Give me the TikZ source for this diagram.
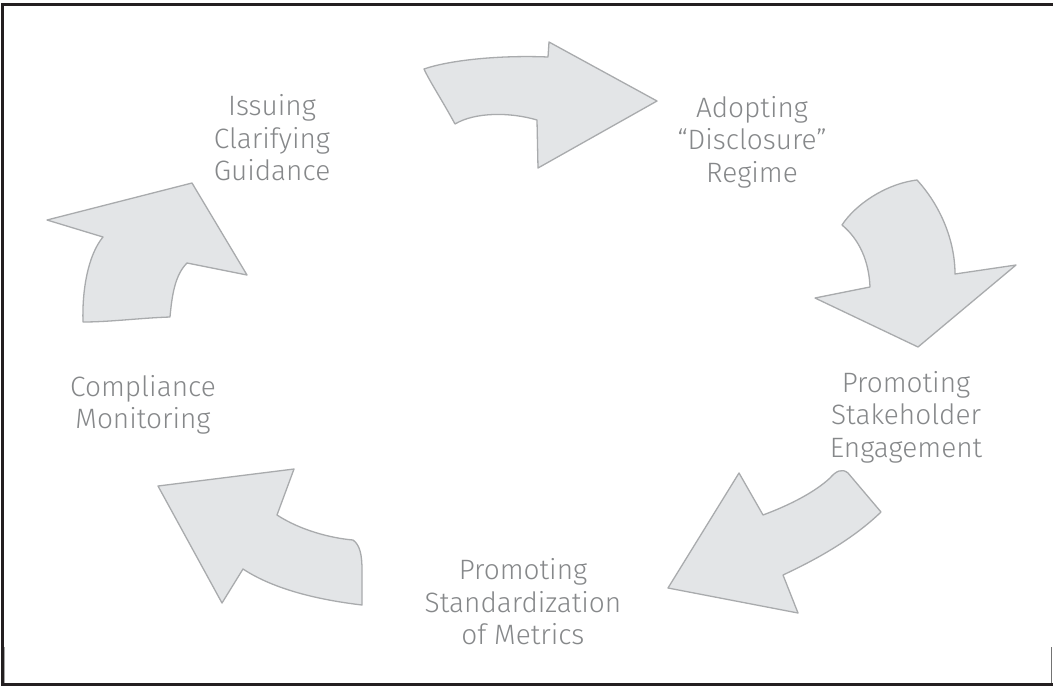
\documentclass[tikz,border=0pt]{standalone}
\usepackage{fontspec}
\setmainfont{Fira Sans Light}
\definecolor{arrfill}{HTML}{E3E5E7}
\definecolor{arrline}{HTML}{A9ABAD}
\definecolor{txt}{HTML}{86888A}
\definecolor{frame}{HTML}{231F20}
\tikzset{
  arrowshape/.style={fill=arrfill, draw=arrline, line width=1.3pt, line join=round},
  label/.style={text=txt, align=center, font=\fontsize{28}{32.5}\selectfont, inner sep=0pt},
}
\begin{document}
\begin{tikzpicture}[x=1pt,y=-1pt]
\useasboundingbox (0,0) rectangle (1053,686);
\fill[white] (0,0) rectangle (1053,686);
% frame
\draw[frame, line width=3pt] (1053,4) -- (2,4) -- (2,684.5) -- (1053,684.5);
\draw[black!35, line width=1.2pt] (4.8,647) -- (4.8,683);
\draw[black!55, line width=1.2pt] (1051.8,647) -- (1051.8,683);
% arrow 1 (top, to the right)
\draw[arrowshape] (424,69) .. controls (450,60) and (500,55) .. (548,57)
  -- (549,42) -- (657,101) -- (538,168) -- (537,120)
  .. controls (510,112) and (475,112) .. (455,124)
  .. controls (442,100) and (430,82) .. cycle;
% arrow 2 (right, downward)
\draw[arrowshape] (842,225) .. controls (855,205) and (885,184) .. (917,180)
  .. controls (940,205) and (955,240) .. (955,274)
  -- (1016,265) -- (918,347) -- (815,298) -- (870,287)
  .. controls (869,262) and (860,240) .. cycle;
% arrow 3 (bottom right, down-left)
\draw[arrowshape] (739,473) -- (763,515)
  .. controls (790,505) and (815,492) .. (830,478)
  .. controls (836,471) and (842,468) .. (848,473)
  -- (881,512)
  .. controls (852,540) and (815,560) .. (783,575)
  -- (798,613) -- (668,588) -- cycle;
% arrow 4 (bottom left, up-left)
\draw[arrowshape] (158,486) -- (294,469) -- (277,515)
  .. controls (300,530) and (330,538) .. (353,540)
  .. controls (360,545) and (362,555) .. (362,570)
  -- (362,605)
  .. controls (320,600) and (275,590) .. (243,569)
  -- (222,603) -- cycle;
% arrow 5 (left, upward)
\draw[arrowshape] (47,220) -- (192,183) -- (247,275) -- (187,263)
  .. controls (175,275) and (172,295) .. (170,317)
  .. controls (140,318) and (110,322) .. (83,322)
  .. controls (82,290) and (88,255) .. (103,237) -- cycle;
% labels
\node[label] (issue) at (272,138) {Issuing\\Clarifying\\Guidance};
\node[label] (adopt) at (752,142) {Adopting\\``Disclosure''\\Regime};
\node[label] (stake) at (906,417) {Promoting\\Stakeholder\\Engagement};
\node[label] (stand) at (523,602) {Promoting\\Standardization\\of Metrics};
\node[label] (compl) at (143,405) {Compliance\\Monitoring};
\end{tikzpicture}
\end{document}
